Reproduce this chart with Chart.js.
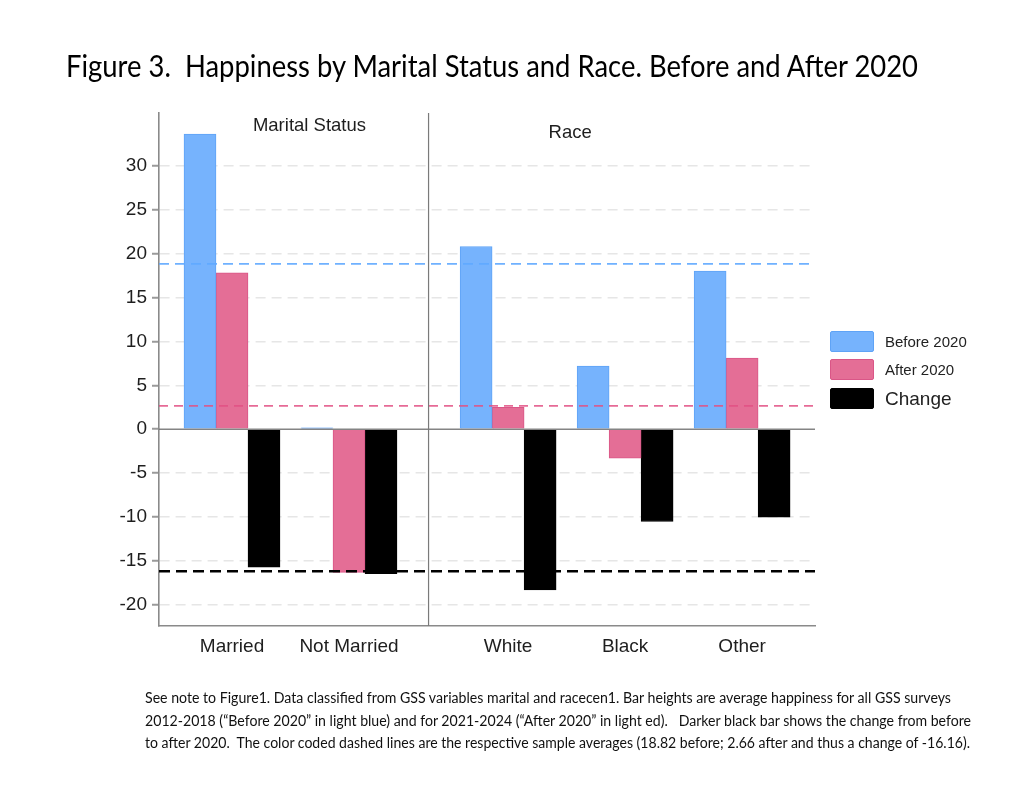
<!DOCTYPE html>
<html>
<head>
<meta charset="utf-8">
<script src="https://cdn.jsdelivr.net/npm/chart.js@4.4.1/dist/chart.umd.min.js"></script>
<style>
  html, body { margin: 0; padding: 0; background: #fff; }
  #wrap { position: relative; width: 1032px; height: 804px; overflow: hidden; background: #fff; }
  #c { position: absolute; left: 0; top: 0; }
  .fit { position: absolute; white-space: pre; line-height: 1; transform-origin: 0 0; font-family: Lato, "Open Sans", sans-serif; }
  #title { left: 66px; top: 50px; font-size: 30px; color: #000; }
  .note { left: 145px; font-size: 15.5px; color: #111; }
  #legend { position: absolute; left: 830px; top: 331px; font-family: "Liberation Sans", Arial, sans-serif; color: #222; }
  .lrow { position: absolute; left: 0; display: flex; align-items: center; height: 21px; white-space: nowrap; }
  .lbox { width: 42px; height: 19px; border-radius: 2px; margin-right: 11px; box-sizing: content-box; }
</style>
</head>
<body>
<div id="wrap">
  <canvas id="c" width="1032" height="804"></canvas>
  <div id="title" class="fit" data-w="852">Figure 3.  Happiness by Marital Status and Race. Before and After 2020</div>
  <div class="note fit" style="top:690px" data-w="806">See note to Figure1. Data classified from GSS variables marital and racecen1. Bar heights are average happiness for all GSS surveys</div>
  <div class="note fit" style="top:713px" data-w="826">2012-2018 (“Before 2020” in light blue) and for 2021-2024 (“After 2020” in light ed).   Darker black bar shows the change from before</div>
  <div class="note fit" style="top:735px" data-w="825">to after 2020.  The color coded dashed lines are the respective sample averages (18.82 before; 2.66 after and thus a change of -16.16).</div>
  <div id="legend"></div>
</div>
<script>
// ---------------- data ----------------
const categories = ['Married', 'Not Married', 'White', 'Black', 'Other'];
const panelOf = [0, 0, 1, 1, 1];
const panels = ['Marital Status', 'Race'];
const seriesNames = ['Before 2020', 'After 2020', 'Change'];
const before2020 = [33.6, 0.15, 20.8, 7.2, 18.0];
const after2020 = [17.8, -16.3, 2.5, -3.3, 8.1];
const change = [-15.7, -16.45, -18.3, -10.5, -10.0];
const sampleAverages = [18.82, 2.66, -16.16]; // before, after, change
const yTicks = [-20, -15, -10, -5, 0, 5, 10, 15, 20, 25, 30];

// ---------------- layout / style ----------------
const panelGap = 0.36;
const xPos = categories.map((c, i) => i + panelGap * panelOf[i]);
const separatorAt = (xPos[1] + xPos[2]) / 2;
const panelTitleAt = [{ x: 0.662, y: 34.5 }, { x: 2.89, y: 33.7 }];
const fills = ['#76b3fd', '#e46e96', '#000000'];
const borders = ['#5fa3f6', '#da5687', '#000000'];
const refColors = ['rgba(95,168,255,0.9)', 'rgba(226,80,132,0.85)', '#000000'];
const refWidths = [1.8, 1.6, 2.4];
const refDash = [[10, 6], [9, 6], [11, 6]];
const legendFont = [15, 15, 19];

const seriesValues = [before2020, after2020, change];

Chart.defaults.font.family = '"Liberation Sans", Arial, sans-serif';
Chart.defaults.color = '#1e1e1e';

const overlay = {
  id: 'overlay',
  afterDatasetsDraw(chart) {
    const { ctx, chartArea: a, scales: { x, y } } = chart;
    ctx.save();
    // zero line
    const y0 = y.getPixelForValue(0);
    ctx.strokeStyle = 'rgba(110,110,110,0.85)';
    ctx.lineWidth = 1.5;
    ctx.setLineDash([]);
    ctx.beginPath(); ctx.moveTo(a.left, y0); ctx.lineTo(a.right, y0); ctx.stroke();
    // panel separator
    const xs = x.getPixelForValue(separatorAt);
    ctx.strokeStyle = '#7a7a7a';
    ctx.lineWidth = 1.2;
    ctx.beginPath(); ctx.moveTo(xs, a.top); ctx.lineTo(xs, a.bottom); ctx.stroke();
    // sample average reference lines
    sampleAverages.forEach((v, i) => {
      const py = y.getPixelForValue(v);
      ctx.strokeStyle = refColors[i];
      ctx.lineWidth = refWidths[i];
      ctx.setLineDash(refDash[i]);
      ctx.beginPath(); ctx.moveTo(a.left, py); ctx.lineTo(a.right, py); ctx.stroke();
    });
    ctx.setLineDash([]);
    // panel titles
    ctx.fillStyle = '#1e1e1e';
    ctx.font = '18.5px "Liberation Sans", Arial, sans-serif';
    ctx.textAlign = 'center';
    ctx.textBaseline = 'middle';
    panels.forEach((p, i) => {
      ctx.fillText(p, x.getPixelForValue(panelTitleAt[i].x), y.getPixelForValue(panelTitleAt[i].y));
    });
    ctx.restore();
  }
};

const chart = new Chart(document.getElementById('c'), {
  type: 'bar',
  data: {
    datasets: seriesNames.map((name, s) => ({
      label: name,
      data: seriesValues[s].map((v, i) => ({ x: xPos[i], y: v })),
      backgroundColor: fills[s],
      borderColor: borders[s],
      borderWidth: 1,
      barThickness: 32
    }))
  },
  options: {
    responsive: false,
    animation: false,
    devicePixelRatio: 1,
    layout: { padding: { left: 109, top: 113, right: 217, bottom: 138 } },
    plugins: { legend: { display: false }, tooltip: { enabled: false } },
    scales: {
      x: {
        type: 'linear',
        min: -0.624,
        max: 4.983,
        offset: false,
        afterBuildTicks: s => { s.ticks = xPos.map(v => ({ value: v })); },
        afterFit: s => { s.height = 40; },
        grid: { display: false, drawTicks: false },
        border: { display: true, color: '#8a8a8a', width: 1.6 },
        ticks: {
          autoSkip: false, maxRotation: 0, padding: 9,
          font: { size: 19 }, color: '#1e1e1e',
          callback: (v, i) => categories[i]
        }
      },
      y: {
        min: -22.4,
        max: 36,
        afterBuildTicks: s => { s.ticks = yTicks.map(v => ({ value: v })); },
        afterFit: s => { s.width = 50; },
        grid: {
          color: c => (c.tick && c.tick.value === 0) ? 'rgba(0,0,0,0)' : '#e6e6e6',
          lineWidth: 1.5,
          tickColor: '#9a9a9a',
          tickLength: 7,
          tickWidth: 2,
          tickBorderDash: []
        },
        border: { display: true, color: '#8a8a8a', width: 1.6, dash: [10, 6] },
        ticks: { padding: 5, font: { size: 19 }, color: '#1e1e1e', callback: v => String(v) }
      }
    }
  },
  plugins: [overlay]
});

// legend (HTML, real text)
const legend = document.getElementById('legend');
const legendTops = [0, 28, 57];
seriesNames.forEach((name, s) => {
  const row = document.createElement('div');
  row.className = 'lrow';
  row.style.top = legendTops[s] + 'px';
  const box = document.createElement('div');
  box.className = 'lbox';
  box.style.background = fills[s];
  box.style.border = '1px solid ' + borders[s];
  const txt = document.createElement('span');
  txt.textContent = name;
  txt.style.fontSize = legendFont[s] + 'px';
  row.appendChild(box); row.appendChild(txt);
  legend.appendChild(row);
});

// fit text lines to their measured widths
document.querySelectorAll('.fit').forEach(el => {
  const w = el.getBoundingClientRect().width;
  const t = +el.dataset.w;
  if (w > 0) el.style.transform = 'scaleX(' + (t / w) + ')';
});
</script>
</body>
</html>
